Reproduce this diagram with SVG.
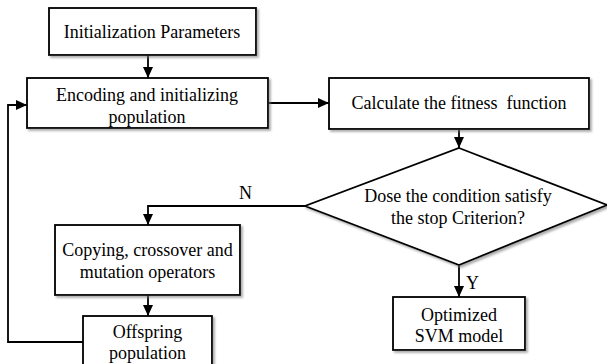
<svg xmlns="http://www.w3.org/2000/svg" width="607" height="364" viewBox="0 0 607 364">
<style>
.box{fill:#fff;stroke:#000;stroke-width:1.8;filter:url(#sh)}
.t{font-family:"Liberation Serif","Times New Roman",serif;font-size:18px;fill:#000;text-anchor:middle}
.l{font-family:"Liberation Serif","Times New Roman",serif;font-size:18px;fill:#000}
.c{fill:none;stroke:#000;stroke-width:1.8}
</style>
<defs>
<filter id="sh" x="-10%" y="-10%" width="130%" height="140%">
<feDropShadow dx="2" dy="2" stdDeviation="1" flood-color="#777" flood-opacity="0.6"/>
</filter>
<marker id="ah" markerUnits="userSpaceOnUse" markerWidth="12" markerHeight="10" refX="11" refY="5" orient="auto">
<path d="M0,0 L11,5 L0,10 z" fill="#000"/>
</marker>
</defs>
<rect width="607" height="364" fill="#fff"/>
<g id="connectors">
<line class="c" x1="148" y1="55" x2="148" y2="78" marker-end="url(#ah)"/>
<line class="c" x1="268" y1="103" x2="329" y2="103" marker-end="url(#ah)"/>
<line class="c" x1="459" y1="129" x2="459" y2="148" marker-end="url(#ah)"/>
<polyline class="c" points="305,206 148,206 148,225" marker-end="url(#ah)"/>
<line class="c" x1="148" y1="295" x2="148" y2="316" marker-end="url(#ah)"/>
<polyline class="c" points="83,342 8,342 8,105 27,105" marker-end="url(#ah)"/>
<line class="c" x1="459" y1="265" x2="459" y2="297" marker-end="url(#ah)"/>
<text class="l" x="239" y="199">N</text>
<text class="l" x="466" y="289">Y</text>
</g>
<g id="init">
<rect class="box" x="49" y="8" width="207" height="47"/>
<text class="t" x="152" y="38">Initialization Parameters</text>
</g>
<g id="encode">
<rect class="box" x="27" y="78" width="241" height="50"/>
<text class="t" x="147" y="101">Encoding and initializing</text>
<text class="t" x="147" y="123">population</text>
</g>
<g id="fitness">
<rect class="box" x="329" y="78" width="260" height="51"/>
<text class="t" x="459" y="109" xml:space="preserve">Calculate the fitness  function</text>
</g>
<g id="decision">
<polygon class="box" points="459,148 607,205 459,265 305,206"/>
<text class="t" x="458" y="202">Dose the condition satisfy</text>
<text class="t" x="458" y="224">the stop Criterion?</text>
</g>
<g id="operators">
<rect class="box" x="55" y="225" width="185" height="70"/>
<text class="t" x="147.5" y="256">Copying, crossover and</text>
<text class="t" x="147.5" y="278">mutation operators</text>
</g>
<g id="offspring">
<rect class="box" x="83" y="316" width="129" height="60"/>
<text class="t" x="147.5" y="338">Offspring</text>
<text class="t" x="147.5" y="359">population</text>
</g>
<g id="svm">
<rect class="box" x="393" y="297" width="132" height="53"/>
<text class="t" x="459" y="321">Optimized</text>
<text class="t" x="459" y="342">SVM model</text>
</g>
</svg>
